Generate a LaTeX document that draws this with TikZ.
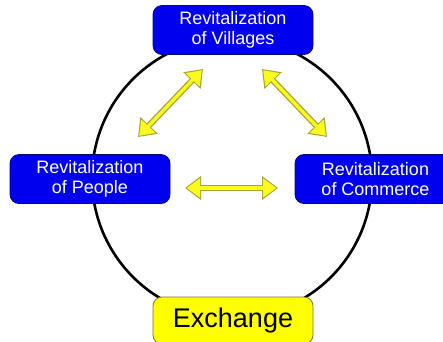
\documentclass[tikz,border=0pt]{standalone}
\usepackage{fontspec}
\setmainfont{Liberation Sans}
\usetikzlibrary{arrows.meta}
\definecolor{boxblue}{RGB}{0,0,238}
\definecolor{boxedge}{RGB}{10,10,110}
\definecolor{hiyellow}{RGB}{255,255,0}
\definecolor{yellowedge}{RGB}{120,120,40}
\definecolor{arrowedge}{RGB}{165,165,50}
\definecolor{arrowfill}{RGB}{250,250,30}
\tikzset{
  bluebox/.style={draw=boxedge, line width=0.8pt, fill=boxblue, rounded corners=9pt,
    minimum width=160pt, minimum height=49pt, text=white, align=center,
    font=\fontsize{18pt}{20pt}\selectfont, inner sep=0pt},
  yellowbox/.style={draw=yellowedge, line width=0.8pt, fill=hiyellow, rounded corners=9pt,
    minimum width=160pt, minimum height=47pt, text=black,
    font=\fontsize{27pt}{30pt}\selectfont, inner sep=0pt},
  ring/.style={draw=black, line width=2.6pt},
  linkedge/.style={draw=arrowedge, line width=6pt,
    {Triangle[length=16pt,width=23pt]}-{Triangle[length=16pt,width=23pt]}},
  linkfill/.style={draw=arrowfill, line width=3.4pt, shorten >=1.6pt, shorten <=1.6pt,
    {Triangle[length=13.4pt,width=18.5pt]}-{Triangle[length=13.4pt,width=18.5pt]}},
}
\begin{document}
\begin{tikzpicture}[x=1pt,y=-1pt]
  \useasboundingbox (0,0) rectangle (443,341);
  \clip (0,0) rectangle (443,341);
  \fill[white] (0,0) rectangle (443,341);

  % the cycle behind the four boxes
  \coordinate (hub) at (232,178);
  \draw[ring] (hub) circle[radius=140pt];

  % boxes
  \node[bluebox] (villages) at (233,30) {Revitalization\\of Villages};
  \node[bluebox] (people) at (90,179) {Revitalization\\of People};
  \node[bluebox, minimum width=161pt] (commerce) at (375.5,179) {Revitalization\\of Commerce};
  \node[yellowbox] (exchange) at (233,320.5) {Exchange};

  % ends of the two-way arrows
  \coordinate (vl) at (203,69);
  \coordinate (pv) at (138,137);
  \coordinate (vr) at (262,69);
  \coordinate (cv) at (327,137);
  \coordinate (pc) at (185,188);
  \coordinate (cp) at (278,188);

  % two-way arrows: outline pass, then fill pass
  \foreach \a/\b in {pv/vl, vr/cv, pc/cp} {
    \draw[linkedge] (\a) -- (\b);
    \draw[linkfill] (\a) -- (\b);
  }
\end{tikzpicture}
\end{document}
